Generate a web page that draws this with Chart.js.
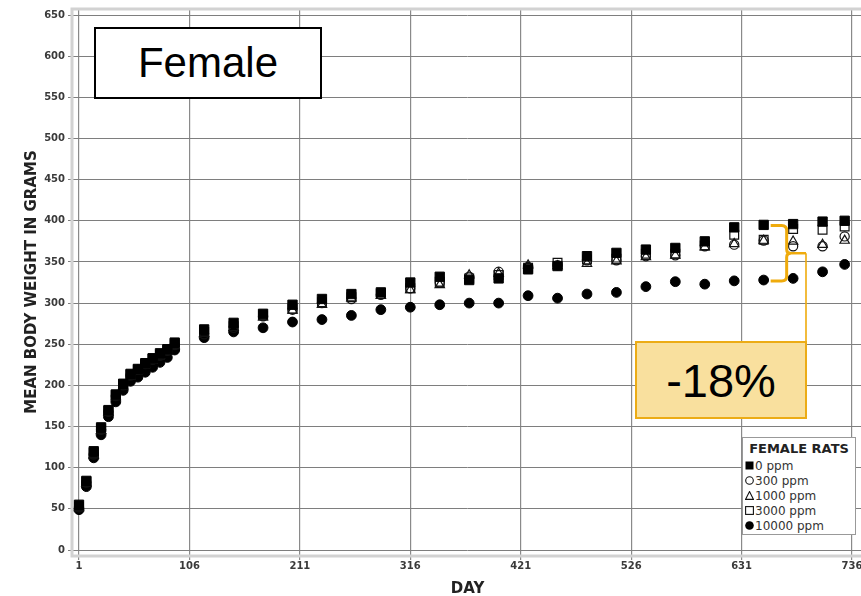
<!DOCTYPE html>
<html>
<head>
<meta charset="utf-8">
<script src="https://cdn.jsdelivr.net/npm/chart.js@4.4.0/dist/chart.umd.min.js"></script>
<style>
html,body{margin:0;padding:0;overflow:hidden;background:#fff;width:861px;height:596px;}
#wrap{position:absolute;left:0;top:0;width:877px;height:596px;}
canvas{display:block;}
.note{position:absolute;box-sizing:border-box;display:flex;align-items:center;justify-content:center;font-family:"Liberation Sans",Arial,sans-serif;color:#000;}
#female{left:94px;top:27px;width:228px;height:72px;border:2px solid #000;background:#fff;font-size:42px;}
#pct{left:635px;top:341px;width:172px;height:78px;border:2px solid #ecac16;background:#f9e09e;font-size:47px;}
#legend{position:absolute;left:742px;top:437px;width:114px;height:98px;box-sizing:border-box;border:1px solid #999;background:#fff;font-family:"DejaVu Sans",sans-serif;color:#333;}
#legend .ttl{position:absolute;left:0;top:2px;width:112px;text-align:center;font-weight:bold;font-size:13px;line-height:18px;color:#222;}
#legend .row{position:absolute;left:2px;height:15px;line-height:15px;font-size:12px;white-space:nowrap;}
#legend svg{display:inline-block;vertical-align:middle;margin-right:1px;position:relative;top:-1px;}
</style>
</head>
<body>
<div id="wrap"><canvas id="c" width="877" height="596"></canvas></div>
<div class="note" id="female">Female</div>
<div class="note" id="pct">-18%</div>
<div id="legend"></div>
<script>
// ---- data ----
const days = [1,8,15,22,29,36,43,50,57,64,71,78,85,92,120,148,176,204,232,260,288,316,344,372,400,428,456,484,512,540,568,596,624,652,680,708,729];
const ppm0     = [55,84,120,149,170,189,202,214,220,227,233,239,244,252,268,276,287,298,305,311,313,325,332,328,330,341,345,357,361,365,367,375,392,395,396,399,400];
const ppm300   = [52,82,116,146,168,187,200,212,219,226,231,236,242,249,262,270,284,292,300,305,310,318,325,332,338,344,346,352,352,357,358,369,371,376,369,369,381];
const ppm1000  = [51,81,115,145,167,186,199,211,218,225,230,236,241,248,263,270,283,291,298,306,309,316,322,334,336,346,345,348,351,356,358,368,372,376,375,371,376];
const ppm3000  = [53,83,118,147,169,188,201,213,219,226,232,237,243,250,265,272,285,293,301,307,311,318,326,330,334,343,349,353,354,360,360,370,383,377,390,389,393];
const ppm10000 = [49,77,112,140,162,180,194,205,210,216,222,228,234,243,258,265,270,277,280,285,292,295,298,300,300,309,306,311,313,320,326,323,327,328,330,338,347];
const seriesNames = ["0 ppm","300 ppm","1000 ppm","3000 ppm","10000 ppm"];
const xTicks = [1,106,211,316,421,526,631,736];
const yTicks = [0,50,100,150,200,250,300,350,400,450,500,550,600,650];
const braceDay = 652;

const pts = arr => days.map((d,i)=>({x:d,y:arr[i]}));
const series = [ppm0,ppm300,ppm1000,ppm3000,ppm10000];
const styles = [
  {pointStyle:'rect', pointRadius:6.6, backgroundColor:'#000', borderColor:'#000', borderWidth:1},
  {pointStyle:'circle', pointRadius:4.6, backgroundColor:'rgba(255,255,255,0)', borderColor:'#111', borderWidth:1.2},
  {pointStyle:'triangle', pointRadius:5.4, backgroundColor:'rgba(255,255,255,0)', borderColor:'#111', borderWidth:1.2},
  {pointStyle:'rect', pointRadius:6.2, backgroundColor:'rgba(255,255,255,0)', borderColor:'#111', borderWidth:1.2},
  {pointStyle:'circle', pointRadius:4.9, backgroundColor:'#000', borderColor:'#000', borderWidth:1}
];
const datasets = series.map((arr,i)=>Object.assign({
  label: seriesNames[i], data: pts(arr), showLine:false
}, styles[i], {pointBackgroundColor: styles[i].backgroundColor, pointBorderColor: styles[i].borderColor, pointBorderWidth: styles[i].borderWidth}));

// plot frame + bracket annotation
const decor = {
  id:'decor',
  beforeDatasetsDraw(chart){
    const a = chart.chartArea, ctx = chart.ctx;
    ctx.save();
    ctx.strokeStyle = '#d2d2d2'; ctx.lineWidth = 3;
    ctx.strokeRect(a.left-1, a.top, a.right-a.left+2, a.bottom-a.top+1);
    ctx.restore();
  },
  afterDatasetsDraw(chart){
    const xs = chart.scales.x, ys = chart.scales.y, ctx = chart.ctx;
    const i = days.indexOf(braceDay);
    const xp = xs.getPixelForValue(braceDay);
    const yT = ys.getPixelForValue(ppm0[i]) + 0.5;
    const yB = ys.getPixelForValue(ppm10000[i]) + 1;
    const x0 = xp + 7, bx = xp + 23, ym = (yT + yB) / 2;
    ctx.save();
    ctx.strokeStyle = '#efab0c'; ctx.lineWidth = 3; ctx.lineJoin='round'; ctx.lineCap='butt';
    ctx.beginPath();
    ctx.moveTo(x0, yT); ctx.lineTo(bx-5, yT); ctx.quadraticCurveTo(bx, yT, bx, yT+5);
    ctx.lineTo(bx, ym-4); ctx.quadraticCurveTo(bx, ym, bx+4, ym);
    ctx.moveTo(bx+4, ym); ctx.quadraticCurveTo(bx, ym, bx, ym+4);
    ctx.lineTo(bx, yB-5); ctx.quadraticCurveTo(bx, yB, bx-5, yB); ctx.lineTo(x0, yB);
    ctx.stroke();
    ctx.beginPath(); ctx.lineWidth = 2.5;
    ctx.moveTo(bx, ym); ctx.lineTo(806, ym); ctx.stroke();
    ctx.beginPath(); ctx.lineWidth = 1.6;
    ctx.moveTo(806, ym); ctx.lineTo(806, 342); ctx.stroke();
    ctx.restore();
  }
};

const tickFont = {family:'"DejaVu Sans", sans-serif', size:10, weight:'bold'};
const titleFont = {family:'"DejaVu Sans", sans-serif', size:15, weight:'bold'};

new Chart(document.getElementById('c'), {
  type:'scatter',
  data:{datasets},
  options:{
    responsive:false, animation:false, events:[],
    layout:{padding:{left:23, top:7, right:15, bottom:0}},
    plugins:{legend:{display:false}, tooltip:{enabled:false}},
    scales:{
      x:{
        type:'linear', min:-4.705, max:745.5,
        afterBuildTicks(s){ s.ticks = xTicks.map(v=>({value:v})); },
        afterFit(s){ s.height = 41; },
        grid:{color:'#8a8a8a', lineWidth:1.2, tickLength:5, drawTicks:true},
        border:{display:false},
        ticks:{font:tickFont, color:'#3a3a3a', padding:0, maxRotation:0, autoSkip:false},
        title:{display:true, text:'DAY', font:titleFont, color:'#222', padding:{top:0,bottom:-2}}
      },
      y:{
        type:'linear', min:-6.05, max:657.3,
        afterBuildTicks(s){ s.ticks = yTicks.map(v=>({value:v})); },
        afterFit(s){ s.width = 50; },
        grid:{color:'#7e7e7e', lineWidth:1, tickLength:5, drawTicks:true},
        border:{display:false},
        ticks:{font:tickFont, color:'#3a3a3a', padding:3, autoSkip:false},
        title:{display:true, text:'MEAN BODY WEIGHT IN GRAMS', font:titleFont, color:'#222', padding:{top:0,bottom:0}}
      }
    }
  },
  plugins:[decor]
});

// legend (HTML)
const mk = [
  '<svg width="9" height="9"><rect x="0.5" y="0.5" width="8" height="8" fill="#000"/></svg>',
  '<svg width="9" height="9"><circle cx="4.5" cy="4.5" r="3.8" fill="none" stroke="#111" stroke-width="1.1"/></svg>',
  '<svg width="9" height="9"><polygon points="4.5,0.6 8.5,8.4 0.5,8.4" fill="none" stroke="#111" stroke-width="1.1"/></svg>',
  '<svg width="9" height="9"><rect x="0.6" y="0.6" width="7.8" height="7.8" fill="none" stroke="#111" stroke-width="1.1"/></svg>',
  '<svg width="9" height="9"><circle cx="4.5" cy="4.5" r="4.3" fill="#000"/></svg>'
];
const lg = document.getElementById('legend');
let html = '<div class="ttl">FEMALE RATS</div>';
seriesNames.forEach((n,i)=>{ html += '<div class="row" style="top:'+(21+i*15)+'px">'+mk[i]+n+'</div>'; });
lg.innerHTML = html;
</script>
</body>
</html>
